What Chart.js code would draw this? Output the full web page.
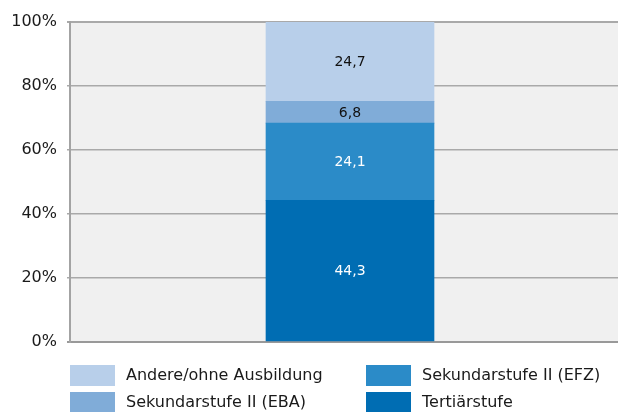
<!DOCTYPE html>
<html>
<head>
<meta charset="utf-8">
<script src="https://cdn.jsdelivr.net/npm/chart.js@4.4.0/dist/chart.umd.min.js"></script>
<style>
  html, body { margin: 0; padding: 0; background: #fff; overflow: hidden; }
  #wrap { width: 618px; height: 412px; overflow: hidden; }
</style>
</head>
<body>
<div id="wrap"><canvas id="chart" width="630" height="412"></canvas></div>
<script>
// data, bottom of the stack first
const categories = [''];
const seriesNames = ['Tertiärstufe', 'Sekundarstufe II (EFZ)', 'Sekundarstufe II (EBA)', 'Andere/ohne Ausbildung'];
const tertiaer = [44.3];
const efz = [24.1];
const eba = [6.8];
const andere = [24.7];
const yTicks = [0, 20, 40, 60, 80, 100];

const colors = ['#006db3', '#2b8bc8', '#80acd8', '#b8cfea'];
const labelColors = ['#ffffff', '#ffffff', '#111111', '#111111'];

//gray plot background
const plotBg = {
    id: 'plotBg',
    beforeDraw(chart) {
        const { ctx, chartArea: { left, top, width, height } } = chart;
        ctx.save();
        ctx.fillStyle = '#f0f0f0';
        ctx.fillRect(left, top, width, height);
        ctx.restore();
    }
}

//value labels in the middle of each segment
const segLabels = {
    id: 'segLabels',
    afterDatasetsDraw(chart) {
        const { ctx } = chart;
        ctx.save();
        ctx.font = '14px "DejaVu Sans"';
        ctx.textAlign = 'center';
        ctx.textBaseline = 'middle';
        chart.data.datasets.forEach((ds, i) => {
            chart.getDatasetMeta(i).data.forEach((el, j) => {
                const y = (el.y + el.base) / 2;
                ctx.fillStyle = labelColors[i];
                ctx.fillText(ds.data[j].toFixed(1).replace('.', ','), el.x, y + 1);
            });
        });
        ctx.restore();
    }
}

//legend in two columns under the plot
const legendBoxes = {
    id: 'legendBoxes',
    afterDraw(chart) {
        const { ctx } = chart;
        const items = [
            { i: 3, x: 70, y: 365 },
            { i: 1, x: 366, y: 365 },
            { i: 2, x: 70, y: 392 },
            { i: 0, x: 366, y: 392 }
        ];
        ctx.save();
        ctx.font = '16px "DejaVu Sans"';
        ctx.textBaseline = 'middle';
        ctx.textAlign = 'left';
        items.forEach(it => {
            ctx.fillStyle = colors[it.i];
            ctx.fillRect(it.x, it.y, 45, 21);
            ctx.fillStyle = '#1a1a1a';
            ctx.fillText(seriesNames[it.i], it.x + 56, it.y + 11);
        });
        ctx.restore();
    }
}

const datasets = [tertiaer, efz, eba, andere].map((d, i) => ({
    label: seriesNames[i],
    data: d,
    backgroundColor: colors[i],
    borderWidth: 0,
    barThickness: 168
}));

new Chart(document.getElementById('chart'), {
    type: 'bar',
    data: { labels: categories, datasets: datasets },
    options: {
        responsive: false,
        animation: false,
        layout: { padding: { top: 22, bottom: 70, left: 0, right: 0 } },
        scales: {
            x: {
                stacked: true,
                display: false
            },
            y: {
                stacked: true,
                min: 0,
                max: 100,
                afterFit(scale) { scale.width = 70; },
                afterBuildTicks(scale) { scale.ticks = yTicks.map(v => ({ value: v })); },
                ticks: {
                    padding: 10,
                    color: '#1a1a1a',
                    font: { family: 'DejaVu Sans', size: 16 },
                    callback: v => v + '%'
                },
                grid: {
                    color: (c) => c.tick && c.tick.value === 0 ? '#999999' : '#a9a9a9',
                    lineWidth: (c) => c.tick && (c.tick.value === 0 || c.tick.value === 100) ? 2 : 1.5,
                    tickLength: 3
                },
                border: { color: '#a3a3a3', width: 2 }
            }
        },
        plugins: {
            legend: { display: false },
            tooltip: { enabled: false }
        }
    },
    plugins: [plotBg, segLabels, legendBoxes]
});
</script>
</body>
</html>
